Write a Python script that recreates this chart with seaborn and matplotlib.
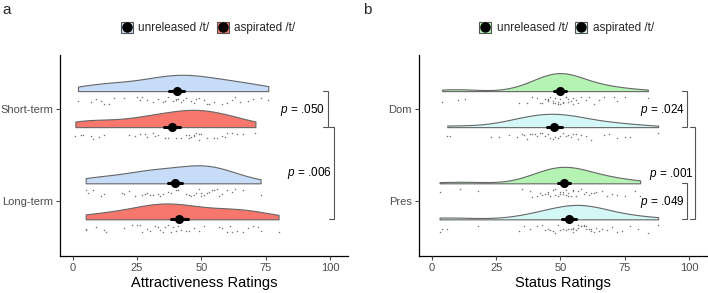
import numpy as np
import pandas as pd
import matplotlib
matplotlib.use("Agg")
import matplotlib.pyplot as plt
from matplotlib.patches import Rectangle
from matplotlib.lines import Line2D
import seaborn as sns

accents = ["unreleased /t/", "aspirated /t/"]

attr_rows = ["Short-term", "Long-term"]
attr_short_unrel = [2, 7, 9, 11, 12, 14, 16, 20, 25, 26, 27, 29, 31, 33, 35, 36, 37, 39, 40, 40, 41,
                    42, 43, 44, 46, 47, 48, 49, 51, 52, 53, 55, 58, 60, 62, 63, 65, 68, 70, 73, 76]
attr_short_asp = [1, 3, 4, 7, 8, 10, 12, 22, 24, 26, 28, 29, 31, 32, 33, 36, 37, 40, 42, 44, 45, 45,
                  46, 47, 47, 48, 49, 49, 50, 52, 55, 56, 58, 59, 60, 62, 64, 66, 71]
attr_long_unrel = [5, 6, 8, 11, 12, 19, 20, 22, 24, 27, 28, 29, 30, 31, 33, 34, 35, 37, 38, 40, 41,
                   44, 45, 46, 47, 48, 49, 50, 50, 51, 52, 53, 54, 55, 56, 57, 58, 60, 62, 63, 66, 73]
attr_long_asp = [5, 5, 9, 12, 13, 20, 23, 25, 26, 27, 29, 30, 32, 33, 34, 35, 36, 37, 38, 39, 40,
                 41, 42, 44, 45, 47, 49, 51, 57, 58, 60, 61, 62, 64, 66, 68, 70, 72, 73, 80]
attr_pvals = [".050", ".006"]

status_rows = ["Dom", "Pres"]
status_dom_unrel = [4, 10, 13, 34, 37, 39, 41, 42, 43, 44, 45, 45, 45, 46, 47, 47, 48, 48, 49, 49, 50,
                    50, 51, 51, 52, 52, 53, 53, 54, 55, 55, 56, 57, 58, 60, 61, 63, 65, 67, 71, 72, 75, 84]
status_dom_asp = [6, 7, 23, 26, 30, 33, 35, 36, 37, 38, 39, 40, 41, 42, 43, 44, 45, 46, 47, 48, 49,
                  50, 51, 52, 53, 54, 55, 56, 57, 58, 60, 62, 67, 69, 72, 75, 77, 88]
status_pres_unrel = [3, 11, 18, 45, 35, 38, 39, 41, 42, 43, 44, 45, 46, 47, 48, 48, 49, 50, 50, 51, 51,
                     52, 52, 53, 53, 54, 55, 55, 56, 57, 58, 59, 60, 61, 62, 63, 64, 66, 68, 70, 72, 75, 79, 81]
status_pres_asp = [3, 4, 6, 18, 34, 36, 38, 41, 43, 44, 45, 46, 47, 48, 49, 50, 51, 52, 53, 54, 55,
                   55, 55, 56, 57, 57, 58, 58, 59, 59, 60, 60, 61, 62, 62, 63, 64, 65, 66, 68, 70, 72,
                   74, 77, 80, 84, 88]
status_pvals = [".024", ".001", ".049"]

# --- STYLE ---
sns.set_theme(style="ticks")
plt.rcParams["font.family"] = ["Liberation Sans", "DejaVu Sans"]
plt.rcParams["mathtext.fontset"] = "custom"
plt.rcParams["mathtext.it"] = "Liberation Sans:italic"
plt.rcParams["mathtext.rm"] = "Liberation Sans"

ROW_STEP = 2.56    # distance between the two row groups (in slot units)
CLOUD_W = 0.5      # violin width; seaborn puts the flat edge of a lone half violin at pos + w/2
np.random.seed(3)  # jitter of the rain only


def build_frame(rows, groups):
    recs = []
    for r, row in enumerate(rows):
        for a, acc in enumerate(accents):
            for v in groups[r][a]:
                recs.append({"rating": v, "row": row, "accent": acc,
                             "slot": r * ROW_STEP + a})
    return pd.DataFrame(recs)


def bracket(ax, y0, y1, x, tick=2.0):
    ax.plot([x - tick, x, x, x - tick], [y0, y0, y1, y1], color="#555555",
            lw=0.8, clip_on=False, solid_joinstyle="miter")


def draw_panel(ax, df, rows, colors, xlabel):
    clouds = df.assign(cloud_y=df["slot"] - CLOUD_W / 2)
    sns.violinplot(data=clouds, x="rating", y="cloud_y", orient="h", native_scale=True,
                   split=True, inner=None, cut=0, bw_method="silverman",
                   density_norm="area", width=CLOUD_W, linewidth=0.8,
                   linecolor="#666666", color="white", ax=ax)
    order = df.drop_duplicates("slot").sort_values("slot")["accent"].tolist()
    for coll, acc in zip(ax.collections, order):
        coll.set_facecolor(colors[accents.index(acc)])

    rain = df.assign(rain_y=df["slot"] + 0.26)
    sns.stripplot(data=rain, x="rating", y="rain_y", orient="h", native_scale=True,
                  jitter=0.11, size=1.1, color="#777777", linewidth=0, ax=ax)

    sns.pointplot(data=df, x="rating", y="slot", orient="h", native_scale=True,
                  errorbar="se", linestyle="none", marker="o", markersize=4.5,
                  color="black", err_kws={"linewidth": 2.2}, ax=ax)

    ax.set_xlim(-5, 107)
    ax.set_ylim(4.58, -1.0)
    ax.set_yticks([r * ROW_STEP + 0.5 for r in range(len(rows))])
    ax.set_yticklabels(rows)
    ax.set_xticks([0, 25, 50, 75, 100])
    ax.set_ylabel("")
    ax.set_xlabel(xlabel, fontsize=10.5, color="black", labelpad=2)
    ax.tick_params(axis="both", labelsize=8, colors="#4d4d4d", length=3, width=0.8, pad=2)
    for side in ["top", "right"]:
        ax.spines[side].set_visible(False)
    for side in ["left", "bottom"]:
        ax.spines[side].set_color("black")
        ax.spines[side].set_linewidth(0.9)
        ax.spines[side].set_zorder(0.5)


def ptext(ax, x, y, p):
    ax.text(x, y, r"$\it{p}$ = " + p, ha="right", va="center", fontsize=8.5,
            color="black", clip_on=False)


fig = plt.figure(figsize=(7.08, 2.93), dpi=100)
ax_a = fig.add_axes([0.0847, 0.126, 0.4068, 0.686])
ax_b = fig.add_axes([0.5918, 0.126, 0.4068, 0.686])

attr_colors = ["#c6dcf8", "#f8776c"]
status_colors = ["#b4f3b4", "#d4f8f8"]

df_a = build_frame(attr_rows, [[attr_short_unrel, attr_short_asp], [attr_long_unrel, attr_long_asp]])
df_b = build_frame(status_rows, [[status_dom_unrel, status_dom_asp], [status_pres_unrel, status_pres_asp]])

draw_panel(ax_a, df_a, attr_rows, attr_colors, "Attractiveness Ratings")
draw_panel(ax_b, df_b, status_rows, status_colors, "Status Ratings")

# significance brackets
bracket(ax_a, 0, 1, 99.2)
ptext(ax_a, 98.0, 0.53, attr_pvals[0])
bracket(ax_a, 1, ROW_STEP + 1, 101.6)
ptext(ax_a, 100.8, 2.28, attr_pvals[1])

bracket(ax_b, 0, 1, 99.2)
ptext(ax_b, 98.4, 0.53, status_pvals[0])
bracket(ax_b, 1, ROW_STEP + 1, 102.4)
ptext(ax_b, 101.6, 2.31, status_pvals[1])
bracket(ax_b, ROW_STEP, ROW_STEP + 1, 99.2)
ptext(ax_b, 98.4, 3.08, status_pvals[2])


def legend_for(colors, cx):
    handles = []
    for c in colors:
        box = Rectangle((0, 0), 1, 1, facecolor=c, edgecolor="#555555", linewidth=0.8)
        dot = Line2D([], [], marker="o", color="black", linestyle="none", markersize=6.5)
        handles.append((box, dot))
    fig.legend(handles, accents, loc="center", bbox_to_anchor=(cx, 0.904), ncol=2,
               frameon=False, fontsize=8.5, handlelength=1.05, handleheight=1.05,
               handletextpad=0.45, columnspacing=0.6)


legend_for(attr_colors, 0.294)
legend_for(status_colors, 0.800)

fig.text(0.004, 0.965, "a", fontsize=11, va="center", ha="left")
fig.text(0.513, 0.965, "b", fontsize=11, va="center", ha="left")

fig.savefig("out.png", dpi=100)
